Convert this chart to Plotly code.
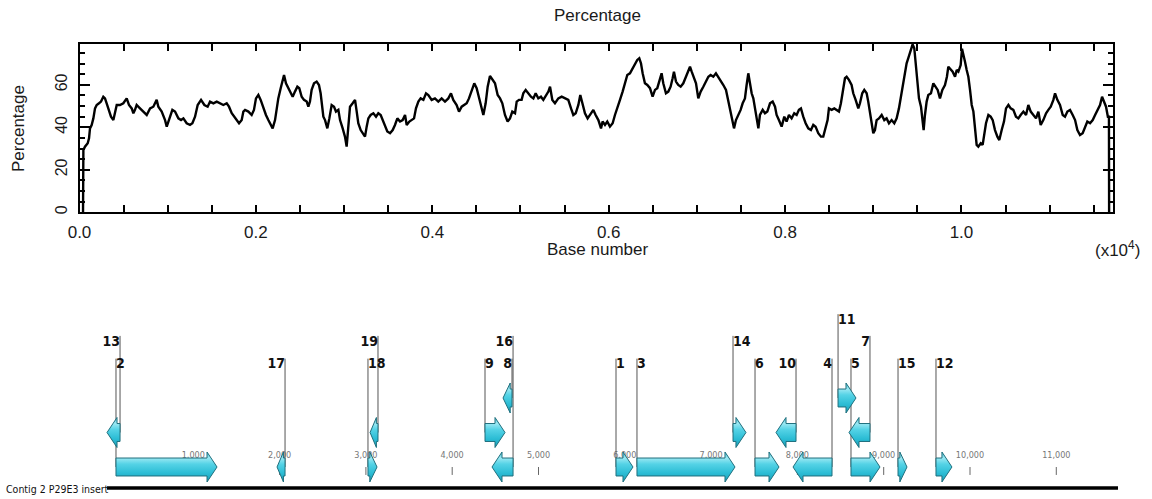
import plotly.graph_objects as go

# ---------------------------------------------------------------
# GC percentage along the insert (sliding-window profile)
# ---------------------------------------------------------------
GC_POS = [40, 44, 62, 93, 108, 119, 138, 157, 176, 195, 221, 244, 270, 289, 308, 327, 357, 384, 403, 422,
          459, 497, 535, 561, 592, 611, 629, 648, 686, 724, 762, 800, 837, 875, 894, 932, 970, 989, 1026, 1053,
          1083, 1121, 1151, 1178, 1215, 1253, 1280, 1310, 1340, 1378, 1416, 1453, 1480, 1518, 1556, 1593, 1631,
          1669, 1695, 1726, 1756, 1782, 1809, 1839, 1858, 1877, 1915, 1952, 1978, 2001, 2028, 2054, 2084, 2114,
          2141, 2167, 2190, 2217, 2235, 2254, 2281, 2303, 2319, 2341, 2368, 2394, 2417, 2443, 2470, 2492, 2519,
          2545, 2576, 2595, 2613, 2632, 2659, 2689, 2715, 2734, 2749, 2765, 2784, 2810, 2833, 2859, 2886, 2908,
          2935, 2954, 2984, 3010, 3029, 3048, 3067, 3097, 3124, 3143, 3161, 3188, 3218, 3237, 3256, 3275, 3301,
          3332, 3362, 3388, 3415, 3437, 3464, 3490, 3521, 3551, 3577, 3604, 3634, 3664, 3691, 3710, 3740, 3766,
          3793, 3815, 3842, 3868, 3899, 3929, 3955, 3993, 4030, 4068, 4106, 4144, 4182, 4212, 4238, 4276, 4303,
          4333, 4363, 4390, 4416, 4446, 4476, 4503, 4529, 4560, 4579, 4605, 4628, 4654, 4681, 4711, 4741, 4768,
          4794, 4824, 4854, 4881, 4907, 4938, 4957, 4983, 5013, 5032, 5059, 5089, 5119, 5146, 5172, 5202, 5232,
          5259, 5285, 5316, 5335, 5361, 5391, 5429, 5467, 5505, 5542, 5573, 5599, 5626, 5656, 5678, 5701, 5731,
          5761, 5788, 5826, 5852, 5883, 5913, 5931, 5958, 5984, 6014, 6045, 6071, 6098, 6128, 6158, 6185, 6211,
          6241, 6271, 6298, 6324, 6347, 6366, 6385, 6411, 6438, 6468, 6498, 6525, 6551, 6574, 6600, 6619, 6649,
          6676, 6702, 6725, 6740, 6763, 6789, 6816, 6846, 6876, 6903, 6922, 6941, 6967, 6990, 7016, 7043, 7073,
          7103, 7130, 7156, 7186, 7216, 7243, 7269, 7300, 7330, 7356, 7383, 7405, 7421, 7443, 7470, 7496, 7519,
          7545, 7564, 7583, 7602, 7621, 7640, 7659, 7678, 7697, 7715, 7746, 7772, 7799, 7829, 7859, 7886, 7904,
          7930, 7961, 7991, 8017, 8044, 8074, 8104, 8131, 8157, 8180, 8206, 8233, 8263, 8293, 8320, 8346, 8376,
          8407, 8433, 8460, 8482, 8497, 8528, 8558, 8584, 8611, 8633, 8660, 8679, 8698, 8724, 8754, 8773, 8800,
          8830, 8849, 8875, 8898, 8925, 8943, 8974, 9000, 9019, 9038, 9064, 9095, 9125, 9151, 9178, 9208, 9238,
          9265, 9291, 9314, 9340, 9359, 9378, 9397, 9416, 9435, 9446, 9465, 9480, 9503, 9518, 9541, 9556, 9571,
          9586, 9605, 9624, 9654, 9681, 9707, 9730, 9756, 9783, 9813, 9835, 9851, 9881, 9900, 9927, 9946, 9965,
          9991, 10006, 10021, 10040, 10059, 10078, 10097, 10116, 10135, 10153, 10172, 10191, 10218, 10240, 10255,
          10278, 10305, 10331, 10354, 10380, 10407, 10429, 10456, 10482, 10505, 10532, 10558, 10588, 10618, 10645,
          10671, 10702, 10732, 10758, 10785, 10815, 10845, 10872, 10898, 10928, 10959, 10985, 11012, 11042, 11061,
          11087, 11117, 11148, 11174, 11201, 11231, 11261, 11288, 11314, 11344, 11374, 11401, 11427, 11458, 11488,
          11515, 11541, 11571, 11594, 11617, 11639, 11660, 11672, 11674]
GC_PCT = [0.0, 29.3, 30.9, 32.5, 34.8, 39.5, 41.1, 44.2, 48.9, 50.5, 51.3, 52.1, 54.4, 53.6, 51.3, 48.9, 45.0, 43.4,
          47.4, 50.5, 50.5, 51.3, 53.6, 50.5, 48.9, 46.6, 48.2, 50.5, 48.9, 47.4, 45.8, 48.9, 49.7, 52.9, 49.7, 47.4,
          43.4, 40.3, 45.0, 48.2, 47.4, 44.2, 43.4, 44.2, 41.9, 41.1, 41.9, 45.0, 50.5, 52.9, 50.5, 49.7, 52.1, 51.3,
          52.1, 51.3, 50.5, 51.3, 49.7, 46.6, 45.0, 43.4, 41.9, 43.4, 47.4, 48.2, 47.4, 45.8, 48.2, 53.6, 55.2, 52.9,
          48.9, 45.8, 43.4, 41.1, 39.5, 43.4, 48.2, 53.6, 58.4, 61.5, 64.6, 60.7, 58.4, 56.0, 54.4, 56.8, 59.1, 58.4,
          54.4, 52.9, 52.1, 49.7, 52.1, 57.6, 60.7, 61.5, 59.9, 56.0, 50.5, 45.0, 43.4, 39.5, 44.2, 50.5, 49.7, 47.4,
          48.2, 43.4, 39.5, 35.6, 30.9, 40.3, 49.7, 51.3, 52.9, 47.4, 41.9, 38.7, 36.4, 35.6, 40.3, 44.2, 45.8, 46.6,
          45.0, 46.6, 45.8, 43.4, 41.1, 38.0, 37.2, 38.7, 41.1, 44.2, 42.7, 43.4, 45.8, 41.1, 42.7, 43.4, 44.2, 48.9,
          52.1, 53.6, 52.9, 56.0, 55.2, 52.9, 53.6, 52.1, 53.6, 52.1, 53.6, 56.0, 52.9, 50.5, 47.4, 49.7, 50.5, 51.3,
          53.6, 57.6, 60.7, 58.4, 53.6, 48.2, 45.8, 51.3, 59.1, 64.2, 62.3, 60.7, 55.2, 53.6, 51.3, 45.8, 42.7, 44.2,
          47.4, 46.6, 52.1, 52.9, 52.9, 56.0, 57.6, 56.0, 54.4, 53.6, 56.0, 53.6, 54.4, 52.9, 54.4, 56.8, 59.1, 52.9,
          51.3, 53.6, 54.4, 53.6, 52.9, 48.9, 45.8, 46.6, 50.5, 55.2, 51.3, 46.6, 44.2, 45.8, 48.2, 45.8, 43.4, 39.5,
          42.7, 41.1, 42.7, 40.3, 41.9, 45.8, 49.7, 52.9, 56.8, 60.7, 64.6, 65.4, 67.8, 70.1, 71.7, 72.5, 70.1, 65.4,
          60.7, 59.9, 58.4, 54.4, 57.6, 58.4, 61.5, 65.4, 60.7, 56.0, 56.8, 59.1, 63.1, 66.2, 61.5, 59.9, 59.1, 60.7,
          63.8, 67.0, 68.5, 66.2, 63.1, 60.7, 53.6, 56.8, 59.1, 61.5, 63.8, 64.6, 63.8, 65.4, 63.8, 62.3, 59.9, 57.6,
          52.1, 47.4, 41.1, 39.5, 43.4, 45.8, 48.2, 51.3, 53.6, 59.9, 65.4, 60.7, 56.0, 53.6, 48.9, 43.4, 39.5, 45.8,
          48.2, 46.6, 47.4, 51.3, 52.1, 49.7, 45.8, 43.4, 40.3, 45.0, 42.7, 45.8, 44.2, 46.6, 45.8, 48.2, 48.9, 45.0,
          41.9, 39.5, 38.7, 41.1, 40.3, 37.2, 35.6, 35.6, 39.5, 43.4, 48.9, 48.2, 48.9, 48.2, 47.4, 51.3, 57.6, 63.1,
          63.8, 62.3, 59.9, 56.0, 52.9, 48.9, 51.3, 56.0, 57.6, 56.0, 52.1, 43.4, 37.2, 38.7, 43.4, 44.2, 45.8, 43.4,
          44.2, 41.9, 43.4, 41.9, 44.2, 48.9, 54.4, 60.7, 67.0, 70.1, 72.5, 74.8, 78.0, 79.0, 77.2, 70.1, 60.7, 53.6,
          49.7, 45.0, 38.7, 45.8, 52.1, 55.2, 56.0, 60.7, 59.1, 57.6, 53.6, 57.6, 59.9, 63.8, 68.5, 67.0, 66.2, 63.8,
          67.0, 66.2, 69.3, 77.0, 73.5, 70.9, 67.0, 63.8, 57.6, 50.5, 47.4, 40.3, 31.7, 30.9, 32.5, 31.7, 36.4, 41.9,
          45.8, 45.0, 43.4, 38.7, 35.6, 34.0, 38.7, 42.7, 48.9, 50.5, 48.9, 48.2, 45.0, 44.2, 45.8, 47.4, 45.8, 50.5,
          47.4, 45.8, 44.2, 47.4, 41.1, 43.4, 46.6, 48.2, 49.7, 52.9, 56.0, 52.9, 50.5, 45.8, 45.0, 47.4, 48.2, 45.8,
          43.4, 38.7, 36.4, 37.2, 40.3, 42.7, 41.9, 43.4, 45.8, 48.2, 50.5, 54.4, 52.1, 49.7, 45.0, 45.0, 0.0]

X_TICK_VALS = [0, 2000, 4000, 6000, 8000, 10000]
X_TICK_TEXT = ["0.0", "0.2", "0.4", "0.6", "0.8", "1.0"]
Y_TICK_VALS = [0, 20, 40, 60]
Y_TICK_TEXT = ["0", "20", "40", "60"]

# ---------------------------------------------------------------
# ORF map of the insert
# ---------------------------------------------------------------
INSERT_NAME = "Contig 2 P29E3 insert"
INSERT_LENGTH = 11715
GENE_IDS = ["2", "13", "17", "18", "19", "9", "8", "16", "1", "3",
            "14", "6", "10", "4", "11", "5", "7", "15", "12"]
GENE_START = [104, 0, 1970, 3024, 3048, 4380, 4589, 4461, 5898, 6141,
              7254, 7509, 7752, 7949, 8471, 8621, 8598, 9166, 9606]
GENE_END = [1275, 151, 2063, 3129, 3140, 4612, 4693, 4705, 6095, 7277,
            7404, 7787, 7984, 8401, 8679, 8957, 8841, 9270, 9791]
GENE_STRAND = [1, -1, -1, 1, -1, 1, -1, -1, 1, 1,
               1, 1, -1, -1, 1, 1, -1, 1, 1]
GENE_TRACK = [0, 1, 0, 0, 1, 1, 2, 0, 0, 0,
              1, 0, 1, 0, 2, 0, 1, 0, 0]
GENE_LABEL_TIER = [0, 1, 0, 0, 1, 0, 0, 1, 0, 0,
                   1, 0, 0, 0, 2, 0, 1, 0, 0]
SCALE_TICKS = [1000, 2000, 3000, 4000, 5000, 6000, 7000, 8000, 9000, 10000, 11000]
SCALE_LABELS = ["1,000", "2,000", "3,000", "4,000", "5,000", "6,000",
                "7,000", "8,000", "9,000", "10,000", "11,000"]

# drawing constants for the map (track units)
BODY_HALF = 0.26
HEAD_HALF = 0.435
HEAD_LEN = 116
LABEL_LEVEL = [2.96, 3.62, 4.25]
BASELINE_LEVEL = -0.61

PLOT_FONT = "Liberation Sans"
MAP_FONT = "DejaVu Sans Condensed, Liberation Sans, sans-serif"
INK = "#1a1a1a"

fig = go.Figure()

# ---------------- GC profile ----------------
fig.add_trace(go.Scatter(
    x=GC_POS, y=GC_PCT, mode="lines",
    line=dict(color="black", width=2.4),
    xaxis="x", yaxis="y", hoverinfo="skip", showlegend=False,
))

# ---------------- ORF map ----------------
# scale ticks and labels (drawn first, ORF arrows paint over them)
tx, ty = [], []
for t in SCALE_TICKS:
    tx += [t, t, None]
    ty += [-0.23, 0.0, None]
fig.add_trace(go.Scatter(
    x=tx, y=ty, mode="lines", line=dict(color="#666666", width=1),
    xaxis="x2", yaxis="y2", hoverinfo="skip", showlegend=False,
))
fig.add_trace(go.Scatter(
    x=SCALE_TICKS, y=[0.32] * len(SCALE_TICKS), mode="text",
    text=SCALE_LABELS, textposition="middle center",
    textfont=dict(family=MAP_FONT, size=9, color="#777777"),
    xaxis="x2", yaxis="y2", hoverinfo="skip", showlegend=False,
))

# leader lines from labels down to their ORF
lx, ly = [], []
for s, e, st, tr, tier in zip(GENE_START, GENE_END, GENE_STRAND, GENE_TRACK, GENE_LABEL_TIER):
    xline = s if st > 0 else e
    lx += [xline, xline, None]
    ly += [LABEL_LEVEL[tier] + 0.18, tr, None]
fig.add_trace(go.Scatter(
    x=lx, y=ly, mode="lines", line=dict(color="#555555", width=1),
    xaxis="x2", yaxis="y2", hoverinfo="skip", showlegend=False,
))

# insert backbone
fig.add_trace(go.Scatter(
    x=[0, INSERT_LENGTH], y=[BASELINE_LEVEL, BASELINE_LEVEL], mode="lines",
    line=dict(color="black", width=3.5),
    xaxis="x2", yaxis="y2", hoverinfo="skip", showlegend=False,
))

# ORF arrows
for gid, s, e, st, tr in zip(GENE_IDS, GENE_START, GENE_END, GENE_STRAND, GENE_TRACK):
    length = e - s
    hl = min(HEAD_LEN, 0.8 * length)
    if st > 0:
        neck = e - hl
        px = [s, neck, neck, e, neck, neck, s, s]
    else:
        neck = s + hl
        px = [e, neck, neck, s, neck, neck, e, e]
    py = [tr - BODY_HALF, tr - BODY_HALF, tr - HEAD_HALF, tr,
          tr + HEAD_HALF, tr + BODY_HALF, tr + BODY_HALF, tr - BODY_HALF]
    fig.add_trace(go.Scatter(
        x=px, y=py, mode="lines", fill="toself",
        fillgradient=dict(type="vertical",
                          colorscale=[[0.0, "#1a9fb8"], [0.3, "#2cbdd5"],
                                      [0.6, "#55d3e6"], [0.8, "#9be8f3"],
                                      [1.0, "#52c8db"]]),
        line=dict(color="#1f6f7d", width=1),
        xaxis="x2", yaxis="y2", hoverinfo="skip", showlegend=False, name=gid,
    ))

# ORF numbers
for gid, s, e, st, tier in zip(GENE_IDS, GENE_START, GENE_END, GENE_STRAND, GENE_LABEL_TIER):
    xline = s if st > 0 else e
    fig.add_trace(go.Scatter(
        x=[xline], y=[LABEL_LEVEL[tier]], mode="text", text=[gid],
        textposition="middle right" if st > 0 else "middle left",
        textfont=dict(family=MAP_FONT, size=14, color="#111111", weight=700),
        xaxis="x2", yaxis="y2", hoverinfo="skip", showlegend=False,
    ))

W, H = 1152, 499


def note(text, x, y, size=17, family=PLOT_FONT, angle=0, xanchor="center", color=INK):
    return dict(text=text, x=x / W, y=1 - y / H, xref="paper", yref="paper",
                xanchor=xanchor, yanchor="middle", textangle=angle, showarrow=False,
                font=dict(family=family, size=size, color=color))


fig.update_layout(
    width=W, height=H,
    margin=dict(l=0, r=0, t=0, b=0, autoexpand=False),
    paper_bgcolor="white", plot_bgcolor="rgba(0,0,0,0)",
    showlegend=False,
    xaxis=dict(
        domain=[79.5 / W, 1113 / W], range=[0, 11718], automargin=False,
        tickvals=X_TICK_VALS, ticktext=X_TICK_TEXT,
        ticks="inside", ticklen=7, tickwidth=1.5, tickcolor="black",
        minor=dict(dtick=500, tick0=0, ticks="inside", ticklen=7, tickwidth=1.5, tickcolor="black"),
        showline=True, linecolor="black", linewidth=2, mirror="ticks",
        showgrid=False, zeroline=False,
        tickfont=dict(family=PLOT_FONT, size=17, color=INK),
        ticklabelstandoff=3,
    ),
    yaxis=dict(
        domain=[1 - 212.3 / H, 1 - 44 / H], range=[0, 79.2], automargin=False,
        tickvals=Y_TICK_VALS, ticktext=Y_TICK_TEXT, tickangle=-90,
        ticks="inside", ticklen=10, tickwidth=1.5, tickcolor="black",
        minor=dict(dtick=5, tick0=0, ticks="inside", ticklen=5, tickwidth=1.5, tickcolor="black"),
        showline=True, linecolor="black", linewidth=2, mirror="ticks",
        showgrid=False, zeroline=False,
        tickfont=dict(family=PLOT_FONT, size=16, color=INK),
        ticklabelstandoff=4,
    ),
    xaxis2=dict(domain=[0, 1], range=[-1240, 12109], visible=False, anchor="y2", automargin=False),
    yaxis2=dict(domain=[0, 0.45], range=[-0.9275, 5.581], visible=False, anchor="x2", automargin=False),
    annotations=[
        note("Percentage", 597, 15),
        note("Percentage", 19, 129, angle=-90),
        note("Base number", 597, 250),
        note("(x10<sup>4</sup>)", 1117, 249),
        note(INSERT_NAME, 4, 489, size=10.5, family=MAP_FONT, xanchor="left", color="#111111"),
    ],
)

fig.write_html("out.html")
